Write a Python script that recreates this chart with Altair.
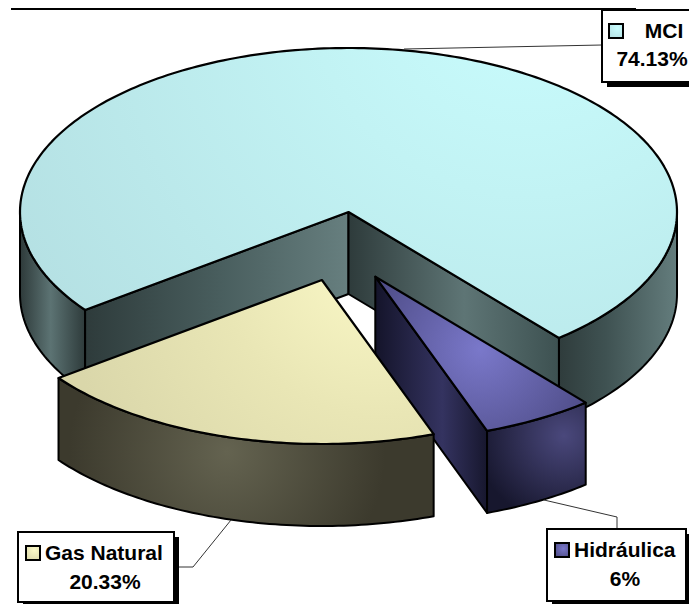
import math
import altair as alt
import pandas as pd

# Slice values (share of the pie, %), and the labels printed in the boxes
names = ["MCI", "Gas Natural", "Hidráulica"]
shares = [74.13, 20.33, 5.54]
printed = ["74.13%", "20.33%", "6%"]

# Pie geometry (pixels of the page)
CX, CY, RX, RY, DEPTH = 348.5, 212.0, 328.5, 164.0, 82.0
START = 143.3
GAS_SHIFT = (-26.6, 68.0)
HYD_SHIFT = (26.8, 64.7)


def pt(t, dx=0.0, dy=0.0, down=0.0):
    a = math.radians(t)
    return [CX + dx + RX * math.cos(a), CY + dy + RY * math.sin(a) + down]


def arc(t0, t1, dx=0.0, dy=0.0, down=0.0):
    n = max(2, int(abs(t1 - t0)))
    return [pt(t0 + (t1 - t0) * i / n, dx, dy, down) for i in range(n + 1)]


def shape(points, fill, width=2.0):
    feature = {
        "type": "Feature",
        "properties": {},
        "geometry": {"type": "Polygon", "coordinates": [points + [points[0]]]},
    }
    return (
        alt.Chart(alt.Data(values=[feature]))
        .mark_geoshape(fill=fill, stroke="black", strokeWidth=width, strokeJoin="round")
        .project(type="identity", scale=1, translate=[-8, -8])
    )


def linear(stops):
    return alt.LinearGradient(
        gradient="linear", x1=0, x2=1, y1=0, y2=0,
        stops=[alt.GradientStop(offset=o, color=c) for o, c in stops],
    )


def radial(cx, cy, r, stops):
    return alt.RadialGradient(
        gradient="radial", x1=cx, y1=cy, r1=0, x2=cx, y2=cy, r2=r,
        stops=[alt.GradientStop(offset=o, color=c) for o, c in stops],
    )


# Angles follow from the shares
mci_end = START + shares[0] * 3.6
gas_end = START - shares[1] * 3.6
hyd_end = gas_end - shares[2] * 3.6
centre = [CX, CY]
centre_low = [CX, CY + DEPTH]

mci_top_fill = radial(0.77, 0.17, 0.95, [(0, "#c9fdfe"), (0.35, "#c2f3f4"), (1, "#b3dee1")])
gas_top_fill = radial(0.85, 0.22, 0.85, [(0, "#fbf9c7"), (0.5, "#e9e6b5"), (1, "#dad7aa")])
hyd_top_fill = radial(0.5, 0.48, 0.62, [(0, "#7a78ca"), (1, "#4b4982")])

layers = [
    # MCI: outer side, inner walls, top
    shape(arc(START, 180) + arc(180, START, down=DEPTH),
          linear([(0, "#2e3a3a"), (0.47, "#5c7373"), (1, "#2e3b3b")])),
    shape(arc(0, mci_end - 360) + arc(mci_end - 360, 0, down=DEPTH),
          linear([(0, "#2f3c3c"), (0.4, "#3f5252"), (1, "#647d7d")])),
    shape([centre, pt(START), pt(START, down=DEPTH), centre_low],
          linear([(0, "#2e3b3b"), (0.5, "#485d5d"), (1, "#677f7f")])),
    shape([centre, pt(mci_end), pt(mci_end, down=DEPTH), centre_low],
          linear([(0, "#2e3b3b"), (0.55, "#5e7575"), (1, "#3d5151")])),
    shape([centre] + arc(START, mci_end), mci_top_fill, 2.2),
    # Hidráulica (exploded): wall, outer side, top
    shape([[CX + HYD_SHIFT[0], CY + HYD_SHIFT[1]], pt(gas_end, *HYD_SHIFT),
           pt(gas_end, *HYD_SHIFT, down=DEPTH),
           [CX + HYD_SHIFT[0], CY + HYD_SHIFT[1] + DEPTH]],
          linear([(0, "#14142a"), (0.6, "#343360"), (1, "#17172e")])),
    shape(arc(hyd_end, gas_end, *HYD_SHIFT) + arc(gas_end, hyd_end, *HYD_SHIFT, down=DEPTH),
          radial(0.75, 0.3, 0.8, [(0, "#4a487c"), (1, "#17172e")])),
    shape([[CX + HYD_SHIFT[0], CY + HYD_SHIFT[1]]] + arc(hyd_end, gas_end, *HYD_SHIFT), hyd_top_fill, 2.2),
    # Gas Natural (exploded): outer side, top
    shape(arc(gas_end, START, *GAS_SHIFT) + arc(START, gas_end, *GAS_SHIFT, down=DEPTH),
          radial(0.45, 0.5, 0.42, [(0, "#646350"), (1, "#3c3a2d")])),
    shape([[CX + GAS_SHIFT[0], CY + GAS_SHIFT[1]]] + arc(gas_end, START, *GAS_SHIFT), gas_top_fill, 2.2),
]

X = alt.X("x:Q", axis=None, scale=alt.Scale(domain=[8, 689], nice=False, zero=False))
Y = alt.Y("y:Q", axis=None, scale=alt.Scale(domain=[604, 8], nice=False, zero=False))

# Heavy rule along the top edge
top_rule = pd.DataFrame({"x": [11], "x2": [636], "y": [9]})
layers.append(alt.Chart(top_rule).mark_rule(color="black", strokeWidth=2).encode(x=X, x2="x2:Q", y=Y))

# Leader lines
leader_x = [602, 404, 178, 193, 231, 544, 617, 617]
leader_y = [45, 49, 567, 567, 520, 500, 517, 529]
leader_id = ["m", "m", "g", "g", "g", "h", "h", "h"]
leaders = pd.DataFrame({"x": leader_x, "y": leader_y, "id": leader_id, "o": range(8)})
layers.append(
    alt.Chart(leaders).mark_line(color="#333333", strokeWidth=1, interpolate="linear")
    .encode(x=X, y=Y, detail="id:N", order="o:Q")
)

# Label boxes and their shadows
box_x = [602, 18, 547]
box_x2 = [712, 174, 686]
box_y = [10, 532, 529]
box_y2 = [82, 602, 601]
SH = 5
shadow = pd.DataFrame({"x": [v + SH for v in box_x], "x2": [v + SH for v in box_x2],
                       "y": [v + SH for v in box_y], "y2": [v + SH for v in box_y2]})
boxes = pd.DataFrame({"x": box_x, "x2": box_x2, "y": box_y, "y2": box_y2})
layers.append(alt.Chart(shadow).mark_rect(color="black").encode(x=X, x2="x2:Q", y=Y, y2="y2:Q"))
layers.append(alt.Chart(boxes).mark_rect(fill="white", stroke="black", strokeWidth=2)
              .encode(x=X, x2="x2:Q", y=Y, y2="y2:Q"))

# Legend keys inside the boxes
key_x = [609, 26, 555]
key_y = [24, 546, 543]
KEY = 14
key_fills = [radial(0.6, 0.3, 0.9, [(0, "#c9fdfe"), (1, "#b3dee1")]),
             radial(0.6, 0.3, 0.9, [(0, "#fbf9c7"), (1, "#d9d6a9")]),
             radial(0.6, 0.4, 0.8, [(0, "#7a78ca"), (1, "#4b4982")])]
for kx, ky, kf in zip(key_x, key_y, key_fills):
    d = pd.DataFrame({"x": [kx], "x2": [kx + KEY], "y": [ky], "y2": [ky + KEY]})
    layers.append(alt.Chart(d).mark_rect(fill=kf, stroke="black", strokeWidth=2)
                  .encode(x=X, x2="x2:Q", y=Y, y2="y2:Q"))

# Texts: names on the first line, percentages on the second
name_x = [664, 45, 574]
name_y = [38, 560, 557]
name_align = ["center", "left", "left"]
pct_x = [652, 105, 625]
pct_y = [66, 589, 586]
FONT = dict(font="Liberation Sans", fontWeight="bold", fontSize=21, color="black", baseline="alphabetic")
for t, x, y, a in zip(names, name_x, name_y, name_align):
    d = pd.DataFrame({"x": [x], "y": [y], "t": [t]})
    layers.append(alt.Chart(d).mark_text(align=a, **FONT).encode(x=X, y=Y, text="t:N"))
for t, x, y in zip(printed, pct_x, pct_y):
    d = pd.DataFrame({"x": [x], "y": [y], "t": [t]})
    layers.append(alt.Chart(d).mark_text(align="center", **FONT).encode(x=X, y=Y, text="t:N"))

chart = (
    alt.layer(*layers)
    .properties(width=681, height=596, padding=0, autosize=alt.AutoSizeParams(type="none"), background="white")
    .configure_view(stroke=None)
)
chart.save("out.html", embed_options={"renderer": "svg", "actions": False})
